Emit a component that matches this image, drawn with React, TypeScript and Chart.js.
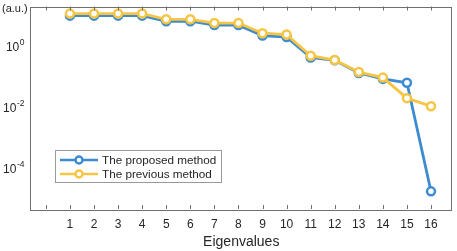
import React, { useEffect, useRef } from "react";
import { Chart, registerables } from "chart.js";

Chart.register(...registerables);

const eigenIndex = [1, 2, 3, 4, 5, 6, 7, 8, 9, 10, 11, 12, 13, 14, 15, 16];
const proposedValues = [9.6, 9.6, 9.6, 9.6, 6.3, 6.3, 4.7, 4.7, 2.14, 1.9, 0.41, 0.33, 0.127, 0.0813, 0.0605, 0.0000168];
const previousValues = [11.2, 11.2, 11.2, 11.2, 7.3, 7.3, 5.5, 5.5, 2.55, 2.3, 0.468, 0.338, 0.136, 0.0895, 0.019, 0.0103];
const xTickValues = [0, 1, 2, 3, 4, 5, 6, 7, 8, 9, 10, 11, 12, 13, 14, 15, 16];
const xTickLabels = ["", "1", "2", "3", "4", "5", "6", "7", "8", "9", "10", "11", "12", "13", "14", "15", "16"];
const yTickExponents = [0, -2, -4];
const seriesNames = ["The proposed method", "The previous method"];
const xTitle = "Eigenvalues";
const yUnit = "(a.u.)";

const BLUE = "#3d8bd0";
const YELLOW = "#f6c543";
const AXIS = "#707070";
const TEXT = "#262626";
const FONT = "'Liberation Sans', Arial, Helvetica, sans-serif";

const decorPlugin = {
  id: "matlabDecor",
  afterDraw(chart: any) {
    const ctx = chart.ctx as CanvasRenderingContext2D;
    const { left, right, top, bottom } = chart.chartArea;
    const xs = chart.scales.x;
    const ys = chart.scales.y;
    ctx.save();
    // box
    ctx.strokeStyle = AXIS;
    ctx.lineWidth = 1;
    ctx.strokeRect(Math.round(left) + 0.5, Math.round(top) + 0.5, Math.round(right - left), Math.round(bottom - top));
    // x ticks
    ctx.beginPath();
    xTickValues.forEach((v) => {
      const px = Math.round(xs.getPixelForValue(v)) + 0.5;
      ctx.moveTo(px, bottom);
      ctx.lineTo(px, bottom - 4);
      ctx.moveTo(px, top);
      ctx.lineTo(px, top + 4);
    });
    ctx.stroke();
    // x tick labels
    ctx.fillStyle = TEXT;
    ctx.font = `12px ${FONT}`;
    ctx.textAlign = "center";
    ctx.textBaseline = "middle";
    xTickValues.forEach((v, i) => {
      ctx.fillText(xTickLabels[i], xs.getPixelForValue(v), 225);
    });
    // x title
    ctx.font = `14px ${FONT}`;
    ctx.fillText(xTitle, (left + right) / 2 + 1, 242);
    // y tick labels (10^n)
    yTickExponents.forEach((e) => {
      const py = ys.getPixelForValue(Math.pow(10, e));
      const base = "10";
      const sup = e < 0 ? "-" + String(-e) : String(e);
      ctx.font = `12px ${FONT}`;
      const wb = ctx.measureText(base).width;
      ctx.font = `8.5px ${FONT}`;
      const ws = ctx.measureText(sup).width;
      const rightEdge = 24;
      const x0 = rightEdge - wb - ws;
      ctx.textAlign = "left";
      ctx.textBaseline = "middle";
      ctx.font = `12px ${FONT}`;
      ctx.fillText(base, x0, py + 2);
      ctx.font = `8.5px ${FONT}`;
      ctx.fillText(sup, x0 + wb + 0.5, py - 3);
    });
    // unit label
    ctx.font = `11px ${FONT}`;
    ctx.textAlign = "left";
    ctx.textBaseline = "middle";
    ctx.fillText(yUnit, 2, 8.5);
    // legend
    const lx = 55.5, ly = 150.5, lw = 166, lh = 32;
    ctx.fillStyle = "#ffffff";
    ctx.fillRect(lx, ly, lw, lh);
    ctx.strokeStyle = "#9a9a9a";
    ctx.lineWidth = 1;
    ctx.strokeRect(lx, ly, lw, lh);
    const rows = [
      { name: seriesNames[0], color: BLUE, y: 160 },
      { name: seriesNames[1], color: YELLOW, y: 174 },
    ];
    rows.forEach((r) => {
      ctx.strokeStyle = r.color;
      ctx.lineWidth = 2.5;
      ctx.beginPath();
      ctx.moveTo(60, r.y);
      ctx.lineTo(98, r.y);
      ctx.stroke();
      ctx.beginPath();
      ctx.arc(79, r.y, 3.5, 0, Math.PI * 2);
      ctx.fillStyle = "#ffffff";
      ctx.fill();
      ctx.stroke();
      ctx.fillStyle = TEXT;
      ctx.font = `11.7px ${FONT}`;
      ctx.textAlign = "left";
      ctx.textBaseline = "middle";
      ctx.fillText(r.name, 102, r.y + 0.5);
    });
    ctx.restore();
  },
};

export default function App() {
  const canvasRef = useRef<HTMLCanvasElement | null>(null);

  useEffect(() => {
    document.body.style.margin = "0";
    const canvas = canvasRef.current;
    if (!canvas) return;
    const chart = new Chart(canvas, {
      type: "line",
      data: {
        datasets: [
          {
            label: seriesNames[0],
            data: eigenIndex.map((x, i) => ({ x, y: proposedValues[i] })),
            borderColor: BLUE,
            backgroundColor: "#ffffff",
            borderWidth: 2.8,
            pointRadius: 4,
            pointBorderWidth: 2.5,
            pointBackgroundColor: "#ffffff",
            pointBorderColor: BLUE,
            tension: 0,
            order: 2,
          },
          {
            label: seriesNames[1],
            data: eigenIndex.map((x, i) => ({ x, y: previousValues[i] })),
            borderColor: YELLOW,
            backgroundColor: "#ffffff",
            borderWidth: 2.8,
            pointRadius: 4,
            pointBorderWidth: 2.5,
            pointBackgroundColor: "#ffffff",
            pointBorderColor: YELLOW,
            tension: 0,
            order: 1,
          },
        ],
      },
      options: {
        responsive: false,
        animation: false,
        devicePixelRatio: 1,
        events: [],
        layout: { padding: { left: 30, top: 2, right: 5, bottom: 42 } },
        plugins: { legend: { display: false }, tooltip: { enabled: false } },
        scales: {
          x: { type: "linear", display: false, min: -0.66, max: 16.81 },
          y: { type: "logarithmic", display: false, min: Math.pow(10, -5.353), max: Math.pow(10, 1.282) },
        },
      },
      plugins: [decorPlugin],
    });
    return () => chart.destroy();
  }, []);

  return (
    <div style={{ position: "fixed", left: 0, top: 0, width: 457, height: 251, background: "#fff" }}>
      <canvas ref={canvasRef} width={457} height={251} style={{ width: 457, height: 251, display: "block" }} />
    </div>
  );
}
